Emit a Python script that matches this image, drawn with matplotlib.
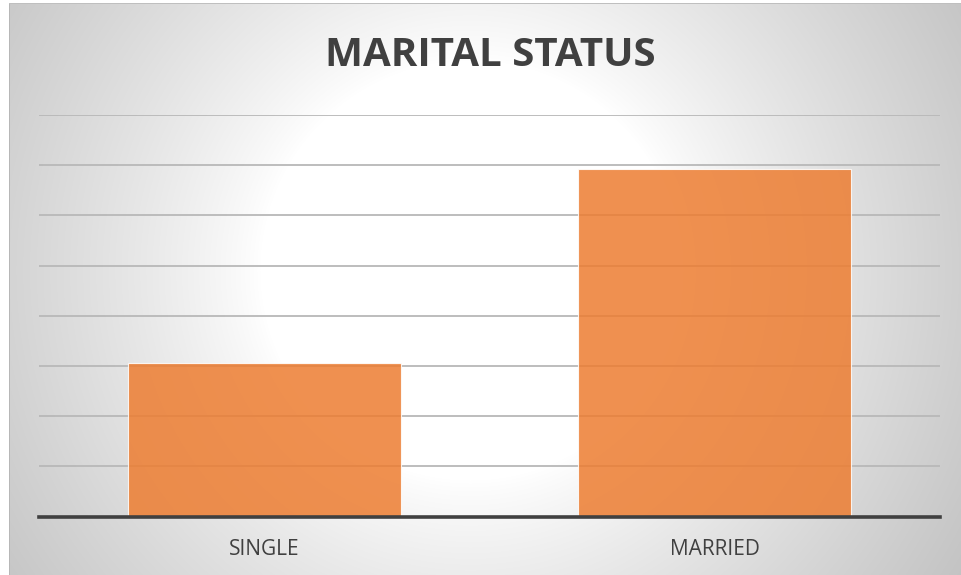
import numpy as np
import matplotlib
matplotlib.use("Agg")
import matplotlib.pyplot as plt

categories = ["SINGLE", "MARRIED"]
values = [3.06, 6.92]
title = "MARITAL STATUS"

W, H = 962, 575
fig = plt.figure(figsize=(W / 100, H / 100), dpi=100)

# background with radial gradient
bg = fig.add_axes([0, 0, 1, 1])
yy, xx = np.mgrid[0:H, 0:W]
cx, cy = 470.0, 270.0
d = np.hypot(xx - cx, (yy - cy) * 1.0)
r0, R = 210.0, 590.0
t = np.clip((d - r0) / (R - r0), 0, 1)
val = 1 - (1 - 0.76) * t ** 0.85
img = np.dstack([val, val, val])
img[:, :9, :] = 1.0
img[:3, :, :] = 1.0
img[3:, 9:10, :] = 0.72
img[3:4, 9:, :] = 0.75
bg.imshow(img, extent=[0, W, H, 0], aspect="auto", interpolation="bilinear")
bg.set_xlim(0, W)
bg.set_ylim(H, 0)
bg.axis("off")

ax = fig.add_axes([39 / W, 58.5 / H, 901 / W, 401.5 / H])
ax.patch.set_alpha(0)
x = np.arange(len(categories))
ax.bar(x, values, width=0.606, color="#ED7D31", alpha=0.85,
       edgecolor=(1, 1, 1, 0.6), linewidth=0.8, zorder=3)
ax.set_xlim(-0.5, 1.5)
ax.set_ylim(0, 8)
ax.set_yticks(np.arange(1, 9))
ax.yaxis.grid(True, color="#B8B8B8", linewidth=1.3, zorder=0)
ax.set_axisbelow(True)
ax.tick_params(axis="y", left=False, labelleft=False)
ax.set_xticks(x)
ax.set_xticklabels(categories, fontsize=15, color="#404040", fontfamily="Open Sans")
ax.tick_params(axis="x", length=0, pad=16)
for s in ["top", "right", "left"]:
    ax.spines[s].set_visible(False)
ax.spines["bottom"].set_color("#404040")
ax.spines["bottom"].set_linewidth(2.6)
ax.spines["bottom"].set_zorder(4)

fig.text(490 / W, 1 - 55 / H, title, ha="center", va="center",
         fontsize=29, fontweight="bold", color="#404040", fontfamily="Open Sans")

fig.savefig("out.png", dpi=100)
